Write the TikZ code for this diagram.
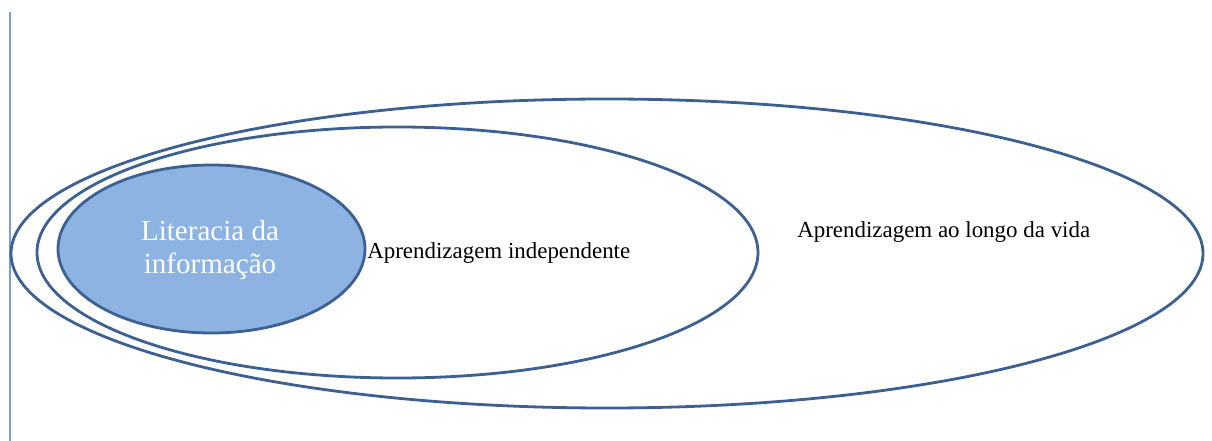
\documentclass[tikz,border=0pt]{standalone}
\usepackage{fontspec}
\setmainfont{Liberation Serif}
\usetikzlibrary{shapes.geometric}
\definecolor{edgeblue}{RGB}{60,96,145}
\definecolor{fillblue}{RGB}{141,179,226}
\definecolor{railblue}{RGB}{125,158,205}
\tikzset{
  ring/.style={ellipse, draw=edgeblue, line width=2.1pt, inner sep=0pt},
  lbl/.style={font=\fontsize{17.2}{20}\selectfont, inner sep=0pt, text=black},
  corelbl/.style={font=\fontsize{21.8}{24.5}\selectfont, inner sep=0pt, text=white, align=center}
}
\begin{document}
\begin{tikzpicture}[x=0.75pt,y=-0.75pt]
\useasboundingbox (0,0) rectangle (1212,441);
\coordinate (railtop) at (10,12);
\coordinate (railbot) at (10,441);
\draw[railblue, line width=1.8pt] (railtop) -- (railbot);
\node[ring, minimum width=1192*0.75pt, minimum height=309*0.75pt] (outer) at (607,253.5) {};
\node[ring, minimum width=721*0.75pt, minimum height=251*0.75pt] (middle) at (397.5,252.5) {};
\node[ring, fill=fillblue, minimum width=307*0.75pt, minimum height=168*0.75pt] (inner) at (211.5,249) {};
\node[corelbl] (t1) at (210,250) {Literacia da\\informação};
\node[lbl, anchor=west] (t2) at (367,253) {Aprendizagem independente};
\node[lbl, anchor=west] (t3) at (797,232) {Aprendizagem ao longo da vida};
\end{tikzpicture}
\end{document}
